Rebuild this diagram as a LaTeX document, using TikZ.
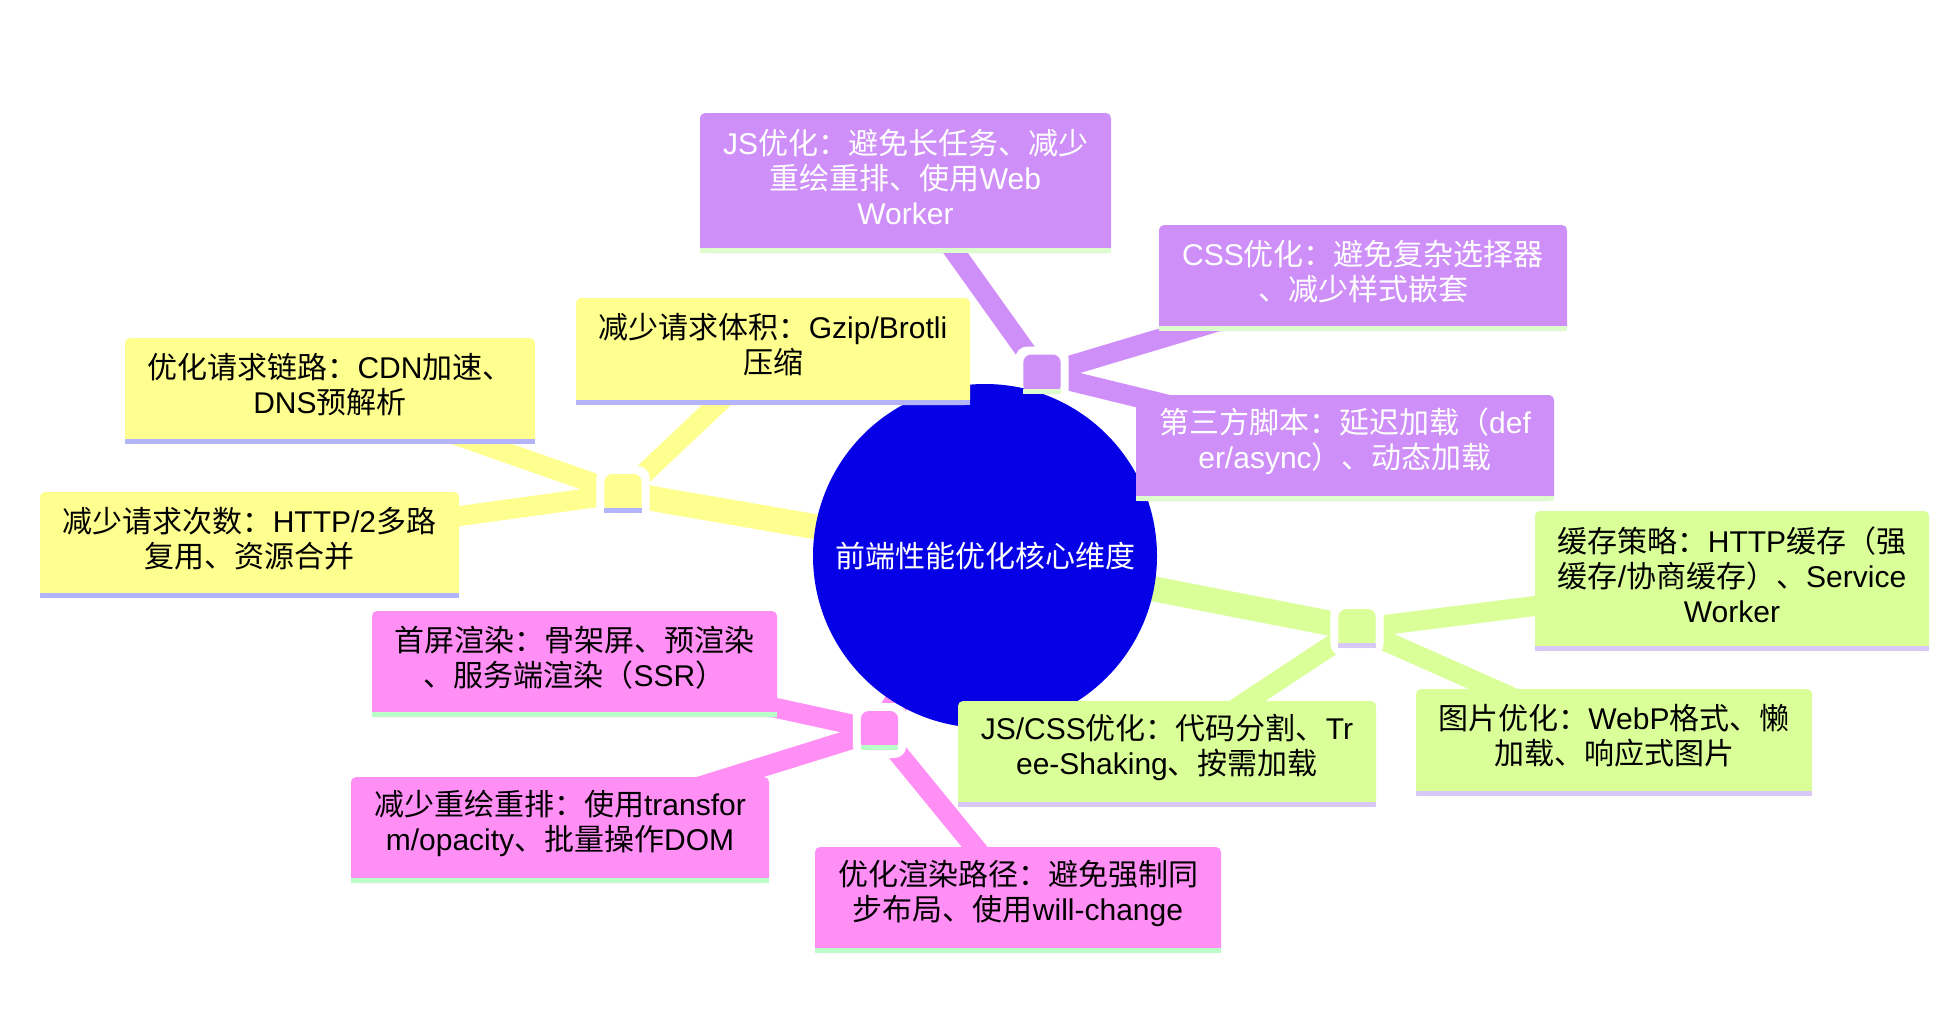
\documentclass[tikz,border=0pt]{standalone}
\usepackage{fontspec}
\setmainfont{Noto Sans CJK SC}
\newfontfamily\latinfam{Liberation Sans}
\newcommand\EN[1]{{\latinfam #1}}
\definecolor{yfill}{RGB}{255,255,143}
\definecolor{ystripe}{RGB}{180,180,250}
\definecolor{pfill}{RGB}{207,143,248}
\definecolor{pstripe}{RGB}{221,253,204}
\definecolor{gfill}{RGB}{218,255,152}
\definecolor{gstripe}{RGB}{216,200,248}
\definecolor{kfill}{RGB}{255,143,245}
\definecolor{kstripe}{RGB}{187,255,200}
\definecolor{rootc}{RGB}{5,0,230}
\pgfdeclarelayer{edges}
\pgfdeclarelayer{halo}
\pgfsetlayers{edges,halo,main}
\tikzset{
  mmbox/.style={rectangle, rounded corners=3.75pt, inner sep=0pt, outer sep=0pt},
  snode/.style={rectangle, rounded corners=6pt, inner sep=0pt, outer sep=0pt},
  txt/.style={inner sep=0pt, align=center, font=\fontsize{22.5pt}{26.25pt}\selectfont},
  e1/.style={line width=18.75pt},
  e2/.style={line width=15pt},
  haloshape/.style={white, rounded corners=9pt},
}
% name, x1, y1, x2, y2, fill, stripe, textcolor, text
\newcommand\mmnode[9]{%
  \node[mmbox, fill=#6, minimum width={(#4-#2)*0.75pt}, minimum height={(#5-#3+5)*0.75pt}] (#1) at ({(#2+#4)/2},{(#3+#5+5)/2}) {};
  \fill[#7] (#1.south west) rectangle ([yshift=3.75pt]#1.south east);
  \node[txt, text=#8] (#1t) at ({(#2+#4)/2},{(#3+#5)/2-4}) {#9};
}
% name, cx, cy(top), fill, stripe
\newcommand\smnode[5]{%
  \node[snode, fill=#4, minimum width=28pt, minimum height=29.25pt] (#1) at (#2,#3) {};
  \fill[#5] (#1.south west) rectangle ([yshift=3.75pt]#1.south east);
  \begin{pgfonlayer}{halo}
    \fill[haloshape] ([shift={(-8,-8)}]#1.north west) rectangle ([shift={(8,8)}]#1.south east);
  \end{pgfonlayer}
}
\begin{document}
\begin{tikzpicture}[x=0.75pt,y=-0.75pt]
\useasboundingbox (0,0) rectangle (1956,1024);

% root
\node[circle, fill=rootc, minimum size=258pt, inner sep=0pt, text=white,
      font=\fontsize{22.5pt}{26.25pt}\selectfont] (root) at (985,556) {前端性能优化核心维度};

% small hub nodes
\smnode{yn}{623}{493.5}{yfill}{ystripe}
\smnode{pn}{1042}{374}{pfill}{pstripe}
\smnode{kn}{879.5}{730.5}{kfill}{kstripe}
\smnode{gn}{1357}{628.5}{gfill}{gstripe}

% purple branch
\mmnode{js}{700}{113}{1111}{248}{pfill}{pstripe}{white}{\EN{JS}优化：避免长任务、减少\\重绘重排、使用\EN{Web}\\\EN{Worker}}
\mmnode{css}{1159}{225}{1567}{326}{pfill}{pstripe}{white}{\EN{CSS}优化：避免复杂选择器\\、减少样式嵌套}
\mmnode{third}{1136}{395}{1554}{496}{pfill}{pstripe}{white}{第三方脚本：延迟加载（\EN{def}\\\EN{er/async}）、动态加载}

% yellow branch
\mmnode{gzip}{576}{298}{970}{400}{yfill}{ystripe}{black}{减少请求体积：\EN{Gzip/Brotli}\\压缩}
\mmnode{chain}{125}{338}{535}{439}{yfill}{ystripe}{black}{优化请求链路：\EN{CDN}加速、\\\EN{DNS}预解析}
\mmnode{count}{40}{492}{459}{593}{yfill}{ystripe}{black}{减少请求次数：\EN{HTTP/2}多路\\复用、资源合并}

% green branch
\mmnode{cache}{1535}{511}{1929}{646}{gfill}{gstripe}{black}{缓存策略：\EN{HTTP}缓存（强\\缓存\EN{/}协商缓存）、\EN{Service}\\\EN{Worker}}
\mmnode{img}{1416}{689}{1812}{791}{gfill}{gstripe}{black}{图片优化：\EN{WebP}格式、懒\\加载、响应式图片}
\mmnode{jscss}{958}{701}{1376}{802}{gfill}{gstripe}{black}{\EN{JS/CSS}优化：代码分割、\EN{Tr}\\\EN{ee-Shaking}、按需加载}

% pink branch
\mmnode{first}{372}{611}{777}{712}{kfill}{kstripe}{black}{首屏渲染：骨架屏、预渲染\\、服务端渲染（\EN{SSR}）}
\mmnode{repaint}{351}{777}{769}{878}{kfill}{kstripe}{black}{减少重绘重排：使用\EN{transfor}\\\EN{m/opacity}、批量操作\EN{DOM}}
\mmnode{path}{815}{847}{1221}{948}{kfill}{kstripe}{black}{优化渲染路径：避免强制同\\步布局、使用\EN{will-change}}

\begin{pgfonlayer}{edges}
  \draw[e1, yfill] (root.center) -- (yn.center);
  \draw[e1, pfill] (root.center) -- (pn.center);
  \draw[e1, kfill] (root.center) -- (kn.center);
  \draw[e1, gfill] (root.center) -- (gn.center);
  \draw[e2, yfill] (yn.center) -- (gzip.center);
  \draw[e2, yfill] (yn.center) -- (chain.center);
  \draw[e2, yfill] (yn.center) -- (count.center);
  \draw[e2, pfill] (pn.center) -- (js.center);
  \draw[e2, pfill] (pn.center) -- (css.center);
  \draw[e2, pfill] (pn.center) -- (third.center);
  \draw[e2, gfill] (gn.center) -- (cache.center);
  \draw[e2, gfill] (gn.center) -- (img.center);
  \draw[e2, gfill] (gn.center) -- (jscss.center);
  \draw[e2, kfill] (kn.center) -- (first.center);
  \draw[e2, kfill] (kn.center) -- (repaint.center);
  \draw[e2, kfill] (kn.center) -- (path.center);
\end{pgfonlayer}
\end{tikzpicture}
\end{document}
